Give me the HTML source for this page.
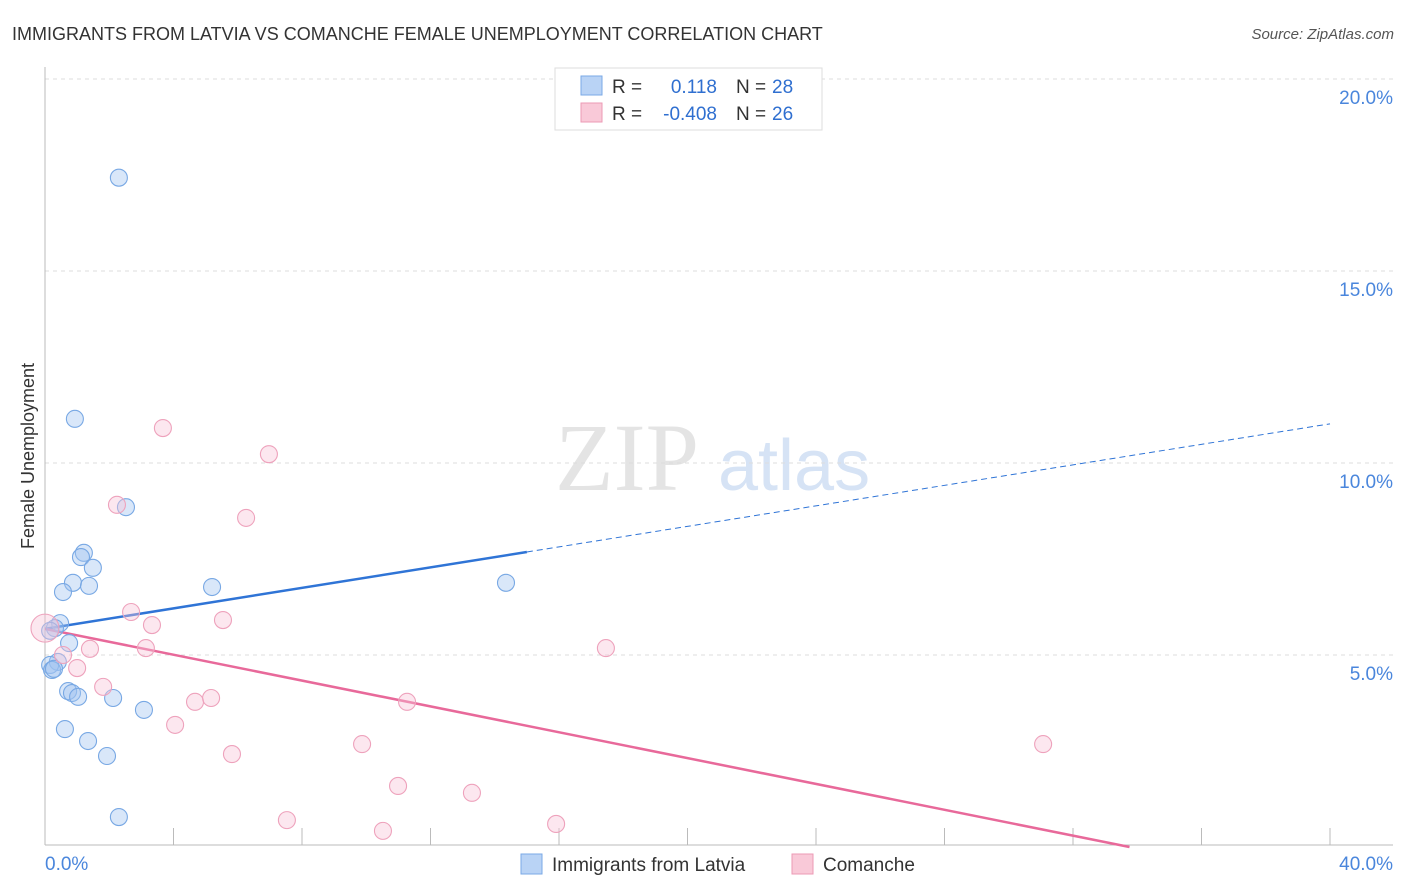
<!DOCTYPE html>
<html><head><meta charset="utf-8"><style>
body{margin:0;background:#fff;font-family:"Liberation Sans",sans-serif;}
svg{display:block}
</style></head><body>
<svg id="chart" width="1406" height="892">
<text x="12" y="40" font-size="18" fill="#333">IMMIGRANTS FROM LATVIA VS COMANCHE FEMALE UNEMPLOYMENT CORRELATION CHART</text>
<text x="1394" y="39" font-size="15" fill="#555" font-style="italic" text-anchor="end">Source: ZipAtlas.com</text>
<text x="34" y="456" font-size="18" fill="#333" transform="rotate(-90 34 456)" text-anchor="middle">Female Unemployment</text>
<g><text x="555" y="490" font-size="96" font-family="Liberation Serif" fill="#e4e4e4">ZIP</text><text x="718" y="490" font-size="72" fill="#d6e3f5">atlas</text></g>
<g id="grid"></g><g id="axes"></g><g id="lines"></g><g id="pts"></g>
<g>
<rect x="555" y="68" width="267" height="62" fill="#fff" stroke="#ddd"/>
<rect x="581" y="76" width="21" height="19" fill="#b9d3f5" stroke="#7aa8e6"/>
<rect x="581" y="103" width="21" height="19" fill="#f9c9d8" stroke="#ec9ab5"/>
<text x="612" y="93" font-size="19" fill="#333">R =</text><text x="717" y="93" font-size="19" fill="#2f6fd0" text-anchor="end">0.118</text>
<text x="736" y="93" font-size="19" fill="#333">N =</text><text x="772" y="93" font-size="19" fill="#2f6fd0">28</text>
<text x="612" y="120" font-size="19" fill="#333">R =</text><text x="717" y="120" font-size="19" fill="#2f6fd0" text-anchor="end">-0.408</text>
<text x="736" y="120" font-size="19" fill="#333">N =</text><text x="772" y="120" font-size="19" fill="#2f6fd0">26</text>
</g>
<g>
<rect x="521" y="854" width="21" height="20" fill="#b9d3f5" stroke="#7aa8e6"/>
<text x="552" y="871" font-size="19" fill="#333">Immigrants from Latvia</text>
<rect x="792" y="854" width="21" height="20" fill="#f9c9d8" stroke="#ec9ab5"/>
<text x="823" y="871" font-size="19" fill="#333">Comanche</text>
</g>
</svg>
<script>
const blueX=[2.30,0.93,2.52,1.21,1.12,1.49,0.87,1.37,0.56,5.20,14.35,0.47,0.31,0.16,0.75,0.40,0.16,0.22,0.28,0.72,0.84,1.03,2.12,3.08,0.62,1.34,1.93,2.30];
const blueY=[17.43,11.15,8.85,7.66,7.55,7.27,6.88,6.80,6.64,6.77,6.88,5.83,5.70,5.63,5.31,4.82,4.74,4.61,4.64,4.06,4.01,3.91,3.88,3.57,3.07,2.76,2.37,0.78];
const pinkX=[3.67,6.97,2.24,6.26,2.68,3.33,5.54,0,1.40,3.14,17.46,0.56,1.00,1.81,4.67,5.17,11.27,4.05,5.82,9.87,31.07,10.99,13.29,7.53,10.52,15.91];
const pinkY=[10.91,10.23,8.91,8.57,6.12,5.78,5.91,5.70,5.16,5.18,5.18,5.00,4.66,4.17,3.78,3.88,3.78,3.18,2.42,2.68,2.68,1.59,1.41,0.70,0.42,0.60];
const yTicks=[5,10,15,20];
const yTickLabels=["5.0%","10.0%","15.0%","20.0%"];
const blueTrend=[5.68,11.02];
const pinkTrend=[5.68,-1.05];
const NS="http://www.w3.org/2000/svg";
const X0=45,X1=1330,Y0=847;
const sx=v=>X0+(v/40)*(X1-X0);
const sy=v=>Y0-v*38.4;
function mk(t,a,p){const e=document.createElementNS(NS,t);for(const k in a)e.setAttribute(k,a[k]);document.getElementById(p).appendChild(e);return e;}
yTicks.forEach((t,i)=>{
 const g=mk('line',{x1:X0,x2:1393,y1:sy(t),y2:sy(t),stroke:'#ddd','stroke-dasharray':'4,4'},'grid');
 
 
 const l=mk('text',{x:1393,y:sy(t)+25,'font-size':19,fill:'#4a86dc','text-anchor':'end'},'grid');
 l.textContent=yTickLabels[i];
 
 
});
mk('line',{x1:X0,x2:X0,y1:67,y2:845,stroke:'#bbb'},'axes');
mk('line',{x1:X0,x2:1393,y1:845,y2:845,stroke:'#bbb'},'axes');
for(let i=0;i<=10;i++){mk('line',{x1:sx(i*4),x2:sx(i*4),y1:828,y2:845,stroke:'#bbb'},'axes');}
const xl0=mk('text',{x:45,y:870,'font-size':19,fill:'#4a86dc'},'axes');xl0.textContent='0.0%';


const xl1=mk('text',{x:1393,y:870,'font-size':19,fill:'#4a86dc','text-anchor':'end'},'axes');xl1.textContent='40.0%';


const bAt=x=>blueTrend[0]+(blueTrend[1]-blueTrend[0])*x/40;
const bl=mk('line',{x1:sx(0),y1:sy(bAt(0)),x2:sx(15),y2:sy(bAt(15)),stroke:'#2f74d6','stroke-width':2.5},'lines');


const bd=mk('line',{x1:sx(15),y1:sy(bAt(15)),x2:sx(40),y2:sy(bAt(40)),stroke:'#2f74d6','stroke-width':1,'stroke-dasharray':'6,4'},'lines');


const xz=40*pinkTrend[0]/(pinkTrend[0]-pinkTrend[1]);
const pl=mk('line',{x1:sx(0),y1:sy(pinkTrend[0]),x2:sx(xz),y2:sy(0),stroke:'#e8699a','stroke-width':2.5},'lines');


blueX.forEach((x,i)=>{const c=mk('circle',{cx:sx(x),cy:sy(blueY[i]),r:8.5,fill:'rgba(160,196,240,0.4)',stroke:'#78a8e4','stroke-width':1.1},'pts');
 
 });
pinkX.forEach((x,i)=>{const c=mk('circle',{cx:sx(x),cy:sy(pinkY[i]),r:i==7?14:8.5,fill:'rgba(248,196,214,0.4)',stroke:'#eea2bc','stroke-width':1.1},'pts');
 
 });
</script>
</body></html>
